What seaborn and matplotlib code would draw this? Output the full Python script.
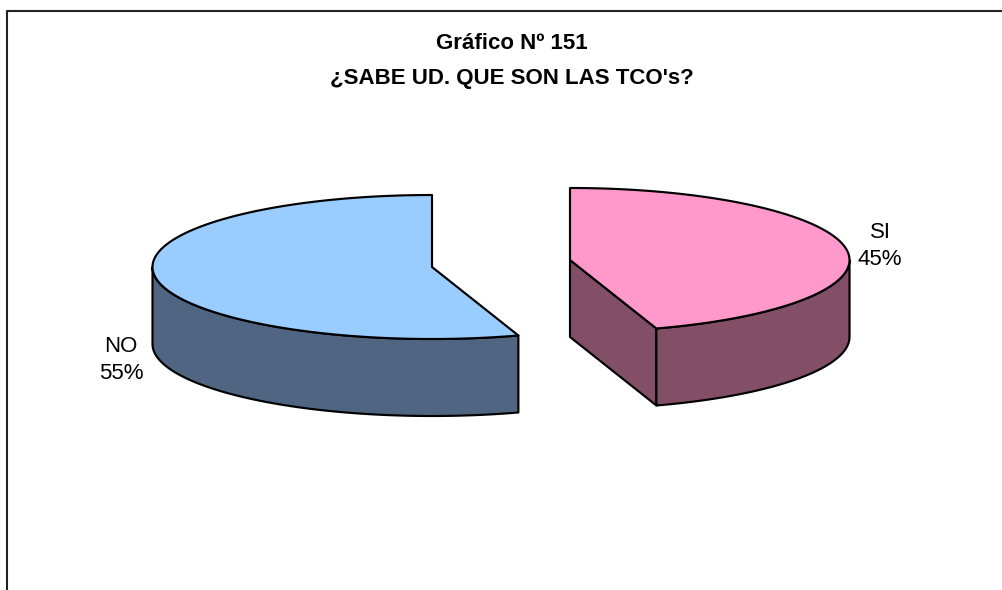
import numpy as np
import pandas as pd
import matplotlib.pyplot as plt
from matplotlib.patches import Polygon
import seaborn as sns

categorias = ['NO', 'SI']
valores = [55, 45]
color_tapa = ['#99CCFF', '#FF99CC']
color_lado = ['#4F6582', '#824F66']
titulo = ['Gráfico Nº 151', "¿SABE UD. QUE SON LAS TCO's?"]

df = pd.DataFrame({'respuesta': categorias, 'pct': valores})

sns.set_theme(style='white')
plt.rcParams['font.family'] = ['Liberation Sans', 'DejaVu Sans']

RX, RY, ALTO = 279.5, 72, 77
centros = {'NO': (432, 267), 'SI': (570, 260)}
LW = 1.55


def arco(cx, cy, a0, a1, dy=0):
    # angulos en grados, horario desde las 12
    t = np.radians(np.linspace(a0, a1, 200))
    return np.column_stack([cx + RX * np.sin(t), cy - RY * np.cos(t) + dy])


def poligono(ax, pts, color):
    ax.add_patch(Polygon(pts, closed=True, facecolor=color, edgecolor='black',
                         linewidth=LW, joinstyle='round'))


fig = plt.figure(figsize=(10.03, 5.9), dpi=100)
ax = fig.add_axes([0, 0, 1, 1])
ax.set_xlim(0, 1003)
ax.set_ylim(590, 0)
ax.axis('off')

# borde del area del grafico (cortado a la derecha y abajo)
ax.plot([7.5, 7.5, 1003], [590, 11, 11], color='#222222', lw=1.5)

# angulos de cada porcion a partir de los valores
fin_si = 360 * df.loc[df.respuesta == 'SI', 'pct'].iloc[0] / df.pct.sum()

# NO: de fin_si a 360
cx, cy = centros['NO']
frente = arco(cx, cy, fin_si, 270)
poligono(ax, np.vstack([frente, arco(cx, cy, 270, fin_si, ALTO)]), color_lado[0])
poligono(ax, np.vstack([[(cx, cy)], arco(cx, cy, fin_si, 360)]), color_tapa[0])

# SI: de 0 a fin_si
cx, cy = centros['SI']
corte = arco(cx, cy, fin_si, fin_si)[0]
poligono(ax, [(cx, cy), corte, corte + [0, ALTO], (cx, cy + ALTO)], color_lado[1])
frente = arco(cx, cy, 90, fin_si)
poligono(ax, np.vstack([frente, arco(cx, cy, fin_si, 90, ALTO)]), color_lado[1])
poligono(ax, np.vstack([[(cx, cy)], arco(cx, cy, 0, fin_si)]), color_tapa[1])

# etiquetas
pos_etiqueta = {'NO': (121, 360), 'SI': (880, 246)}
for _, fila in df.iterrows():
    x, y = pos_etiqueta[fila.respuesta]
    ax.text(x, y, f'{fila.respuesta}\n{fila.pct}%', ha='center', va='center',
            fontsize=16, color='black', linespacing=1.36)

ax.text(512, 61, '\n'.join(titulo), ha='center', va='center', fontsize=16,
        fontweight='bold', color='black', linespacing=1.85)

fig.savefig('out.png', dpi=100, facecolor='white')
